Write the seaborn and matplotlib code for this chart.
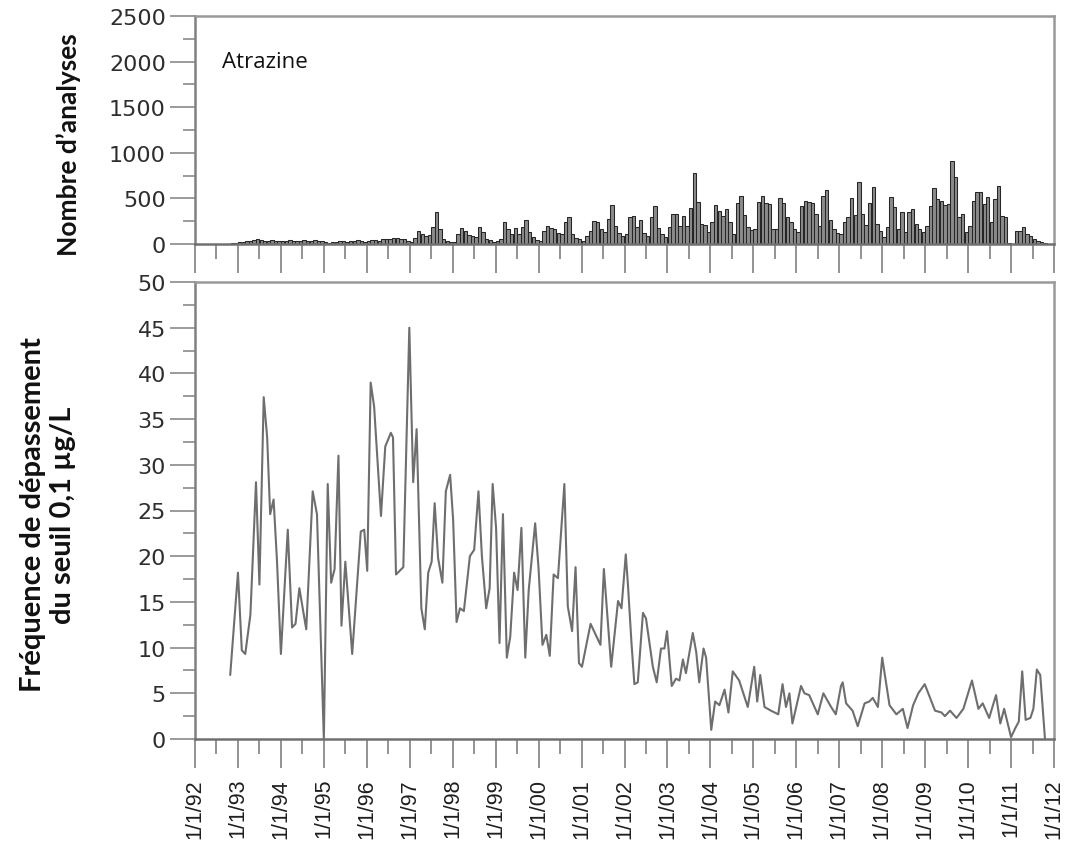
import numpy as np
import pandas as pd
import matplotlib
matplotlib.use("Agg")
import matplotlib.pyplot as plt
from matplotlib.ticker import MultipleLocator, FixedLocator
import seaborn as sns

# ---------------- data ----------------
# Monthly number of analyses, first month = Nov 1992
bars_first_year = 1992
bars_first_month = 11
nombre_analyses = [
    8, 12,
    20, 25, 30, 35, 45, 60, 40, 30, 35, 40, 30, 35,
    35, 30, 40, 35, 38, 30, 40, 35, 30, 40, 35, 30,
    20, 15, 18, 20, 30, 35, 25, 30, 35, 40, 30, 25,
    30, 40, 45, 35, 50, 55, 60, 70, 65, 55, 50, 30,
    25, 70, 146, 110, 90, 95, 183, 347, 164, 55, 36, 20,
    18, 110, 170, 146, 99, 85, 73, 183, 128, 55, 40, 26,
    30, 55, 245, 164, 110, 170, 110, 183, 266, 128, 80, 47,
    37, 146, 200, 170, 164, 120, 110, 237, 292, 110, 70, 55,
    37, 90, 146, 256, 237, 164, 128, 274, 427, 200, 120, 91,
    110, 292, 310, 183, 266, 120, 91, 292, 412, 172, 110, 73,
    183, 328, 328, 200, 303, 200, 390, 777, 456, 219, 208, 128,
    237, 427, 365, 310, 383, 237, 110, 449, 530, 318, 183, 150,
    164, 456, 530, 449, 438, 164, 164, 500, 449, 292, 245, 164,
    130, 412, 475, 456, 449, 328, 200, 522, 595, 266, 164, 120,
    110, 237, 292, 500, 318, 675, 328, 208, 449, 620, 219, 146,
    73, 183, 511, 401, 164, 347, 128, 347, 383, 219, 164, 128,
    200, 412, 610, 493, 475, 427, 438, 912, 730, 292, 328, 128,
    200, 475, 566, 566, 438, 511, 237, 493, 631, 303, 292, 15,
    0, 146, 146, 183, 110, 91, 50, 37, 18, 10,
]

# Exceedance frequency (%) of the 0.1 µg/L threshold, decimal years
freq_annee = [
    1992.82, 1993.0, 1993.09, 1993.17, 1993.29, 1993.42, 1993.5, 1993.6, 1993.68, 1993.75,
    1993.83, 1993.91, 1994.0, 1994.16, 1994.26, 1994.34, 1994.43, 1994.59, 1994.74, 1994.84,
    1995.0, 1995.09, 1995.17, 1995.25, 1995.34, 1995.41, 1995.5, 1995.66, 1995.86, 1995.94,
    1996.01, 1996.09, 1996.17, 1996.33, 1996.43, 1996.56, 1996.61, 1996.68, 1996.85, 1996.99,
    1997.08, 1997.16, 1997.22, 1997.27, 1997.35, 1997.43, 1997.51, 1997.58, 1997.66, 1997.76,
    1997.84, 1997.94, 1998.01, 1998.09, 1998.17, 1998.26, 1998.4, 1998.5, 1998.6, 1998.68,
    1998.78, 1998.86, 1998.93, 1999.01, 1999.09, 1999.17, 1999.26, 1999.34, 1999.43, 1999.51,
    1999.6, 1999.69, 1999.77, 1999.92, 2000.0, 2000.09, 2000.18, 2000.26, 2000.35, 2000.45,
    2000.6, 2000.68, 2000.78, 2000.86, 2000.94, 2001.01, 2001.21, 2001.44, 2001.52, 2001.69,
    2001.85, 2001.93, 2002.03,
    2002.08, 2002.16, 2002.23, 2002.31, 2002.43, 2002.5, 2002.66, 2002.75, 2002.85, 2002.93,
    2002.99, 2003.1, 2003.2, 2003.28, 2003.36, 2003.43, 2003.59, 2003.67, 2003.74, 2003.84,
    2003.9, 2004.02, 2004.11, 2004.21, 2004.33, 2004.42, 2004.52, 2004.67, 2004.87, 2005.02,
    2005.09, 2005.16, 2005.26, 2005.41, 2005.58, 2005.68, 2005.76, 2005.84, 2005.91, 2006.11,
    2006.19, 2006.3, 2006.5, 2006.63, 2006.81, 2006.92, 2007.04,
    2007.08, 2007.16, 2007.31, 2007.43, 2007.59, 2007.7, 2007.78, 2007.9, 2008.0, 2008.17,
    2008.33, 2008.48, 2008.59, 2008.72, 2008.84, 2008.99, 2009.23, 2009.38, 2009.46, 2009.58,
    2009.73, 2009.89, 2010.09, 2010.24, 2010.34, 2010.49, 2010.65, 2010.75, 2010.84, 2011.0,
    2011.1, 2011.18, 2011.26, 2011.34, 2011.45, 2011.52, 2011.6, 2011.68, 2011.79,
]
freq_depassement = [
    7.0, 18.2, 9.7, 9.3, 13.6, 28.1, 16.9, 37.4, 33.0, 24.6,
    26.2, 19.4, 9.3, 22.9, 12.2, 12.6, 16.5, 12.0, 27.1, 24.6,
    0.0, 27.9, 17.1, 18.6, 31.0, 12.4, 19.4, 9.3, 22.7, 22.9,
    18.4, 39.0, 36.4, 24.4, 32.0, 33.5, 33.0, 18.0, 18.8, 45.0,
    28.1, 33.9, 23.1, 14.3, 12.0, 18.2, 19.4, 25.8, 19.8, 17.1,
    27.1, 28.9, 24.0, 12.8, 14.3, 14.0, 20.0, 20.7, 27.1, 20.0,
    14.3, 16.5, 27.9, 23.1, 10.5, 24.6, 8.9, 11.2, 18.2, 16.3,
    23.1, 8.9, 16.3, 23.6, 18.6, 10.3, 11.4, 9.1, 18.0, 17.6,
    27.9, 14.5, 11.8, 18.8, 8.3, 7.9, 12.6, 10.3, 18.6, 7.9,
    15.1, 14.3, 20.2,
    16.9, 10.7, 6.0, 6.2, 13.8, 13.2, 7.9, 6.2, 9.9, 9.9,
    11.8, 5.8, 6.6, 6.4, 8.7, 7.2, 11.6, 9.5, 6.2, 9.9,
    8.9, 1.0, 4.1, 3.7, 5.4, 2.9, 7.4, 6.4, 3.5, 7.9,
    4.1, 7.0, 3.5, 3.1, 2.7, 6.0, 3.5, 5.0, 1.7, 5.8,
    5.0, 4.8, 2.7, 5.0, 3.5, 2.7, 5.8,
    6.2, 3.9, 3.1, 1.4, 3.9, 4.1, 4.5, 3.5, 8.9, 3.7,
    2.7, 3.3, 1.2, 3.7, 5.0, 6.0, 3.1, 2.9, 2.5, 3.1,
    2.3, 3.3, 6.4, 3.3, 3.9, 2.3, 4.8, 1.7, 3.3, 0.2,
    1.2, 1.9, 7.4, 2.1, 2.3, 3.3, 7.6, 7.0, 0.0,
]

annees_ticks = list(range(1992, 2013))
tick_labels = [f"1/1/{a % 100:02d}" for a in annees_ticks]

# ---------------- frames ----------------
months = pd.period_range(start=f"{bars_first_year}-{bars_first_month:02d}",
                         periods=len(nombre_analyses), freq="M")
df_bars = pd.DataFrame({
    "annee": months.year + (months.month - 0.5) / 12.0,
    "n": nombre_analyses,
})
df_line = pd.DataFrame({"annee": freq_annee, "freq": freq_depassement})

# ---------------- style ----------------
sns.set_theme(style="white")
plt.rcParams["font.family"] = ["DejaVu Sans"]

fig = plt.figure(figsize=(10.67, 8.54), dpi=100)
L, R = 195 / 1067, 1054 / 1067
ax1 = fig.add_axes([L, 1 - 245 / 854, R - L, (245 - 17) / 854])
ax2 = fig.add_axes([L, 1 - 740 / 854, R - L, (740 - 283) / 854])

sns.barplot(data=df_bars, x="annee", y="n", native_scale=True, ax=ax1,
            color="#8a8a8a", saturation=1, edgecolor="#262626", linewidth=0.75,
            width=0.95, errorbar=None)
sns.lineplot(data=df_line, x="annee", y="freq", ax=ax2, color="#6e6e6e",
             linewidth=1.5)

spine_col = "#999999"
for ax in (ax1, ax2):
    ax.set_xlim(1992, 2012)
    ax.xaxis.set_major_locator(FixedLocator(annees_ticks))
    ax.xaxis.set_minor_locator(MultipleLocator(0.5))
    for s in ax.spines.values():
        s.set_visible(True)
        s.set_color(spine_col)
        s.set_linewidth(1.8)
    ax.spines["left"].set_color("#808080")
    ax.spines["bottom"].set_color("#707070")
    ax.tick_params(axis="x", which="major", direction="out", length=21, width=1.3,
                   color="#8a8a8a", bottom=True)
    ax.tick_params(axis="x", which="minor", direction="out", length=10.5, width=1.3,
                   color="#8a8a8a", bottom=True)
    ax.tick_params(axis="y", which="major", direction="out", length=18, width=1.2,
                   color="#8a8a8a", left=True, labelsize=16, labelcolor="#2e2e2e", pad=3)
    ax.tick_params(axis="y", which="minor", direction="out", length=9, width=1.2,
                   color="#8a8a8a", left=True)
    ax.set_xlabel("")

ax1.set_ylim(0, 2500)
ax1.yaxis.set_major_locator(MultipleLocator(500))
ax1.yaxis.set_minor_locator(MultipleLocator(250))
ax1.set_xticklabels([])
ax1.set_ylabel("")

ax2.set_ylim(0, 50)
ax2.yaxis.set_major_locator(MultipleLocator(5))
ax2.yaxis.set_minor_locator(MultipleLocator(2.5))
ax2.set_xticklabels(tick_labels, rotation=90, fontsize=15.5,
                    fontfamily="Liberation Sans", color="#1e1e1e")
ax2.tick_params(axis="x", which="major", pad=7)
ax2.set_ylabel("")

ax1.text(0.031, 0.80, "Atrazine", transform=ax1.transAxes, ha="left", va="center",
         fontsize=16, fontfamily="Open Sans", color="#111111")

ax1.set_ylabel("Nombre d\u2019analyses", fontfamily="Lato", fontweight="bold",
               fontsize=19, color="#111111", ha="center", va="center")
ax1.yaxis.set_label_coords((69 - 195) / 859, (245 - 145) / 228)
ax2.set_ylabel("Fréquence de dépassement\ndu seuil 0,1 µg/L", fontfamily="Lato",
               fontweight="bold", fontsize=21, color="#111111",
               ha="center", va="center", linespacing=1.2)
ax2.yaxis.set_label_coords((48 - 195) / 859, (740 - 515) / 457)

fig.savefig("out.png", dpi=100)
